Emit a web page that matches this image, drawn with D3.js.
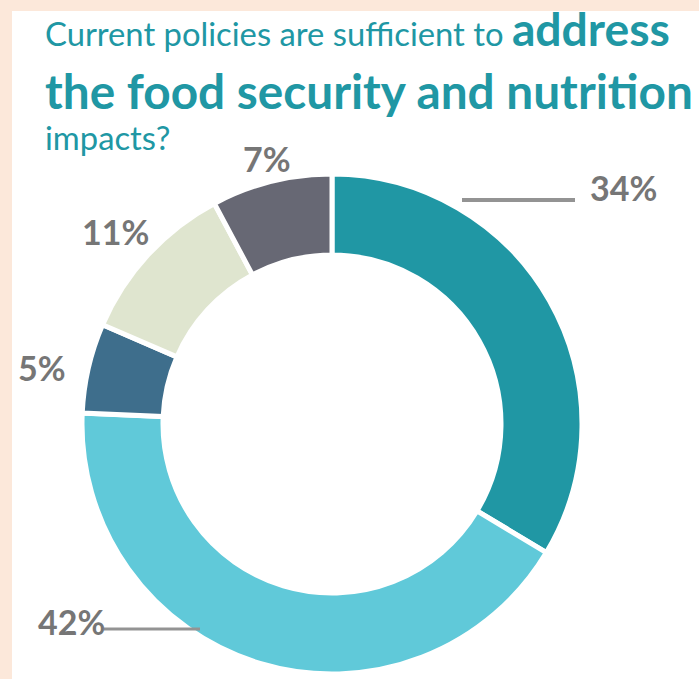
<!DOCTYPE html>
<html><head><meta charset="utf-8">
<script src="https://cdn.jsdelivr.net/npm/d3@7"></script>
<style>html,body{margin:0;padding:0;background:#fce8da;}svg{display:block;}</style>
</head><body>
<script>
// Data
const categories = ["A", "B", "C", "D", "E"];
const labels = ["34%", "42%", "5%", "11%", "7%"];
// segment shares as drawn in the picture (measured from the arcs)
const shares = [33.6, 42.1, 5.8, 10.7, 7.8];
const colors = ["#2097a4", "#60c9d9", "#3e6e8c", "#dfe5cf", "#676874"];
const titleLine1 = ["Current policies are sufficient to ", "address"];
const titleLine2 = "the food security and nutrition";
const titleLine3 = "impacts?";

const W = 699, H = 679;
const svg = d3.select("body").append("svg").attr("width", W).attr("height", H);
svg.append("rect").attr("width", W).attr("height", H).attr("fill", "#fce8da");
svg.append("rect").attr("x", 12).attr("y", 11).attr("width", W - 12).attr("height", H - 11).attr("fill", "#ffffff");

const teal = "#2097a4";
const font = "Lato, 'Open Sans', sans-serif";

function fitText(sel, target) {
  const w = sel.node().getComputedTextLength();
  const fs = parseFloat(sel.attr("font-size"));
  sel.attr("font-size", fs * target / w);
}

// Title
const t1 = svg.append("text").attr("x", 45).attr("y", 46).attr("fill", teal).attr("font-family", font);
const t1a = t1.append("tspan").attr("font-size", 27).attr("font-weight", 400).text(titleLine1[0]);
const t1b = t1.append("tspan").attr("font-size", 42).attr("font-weight", 700).text(titleLine1[1]);
{
  const w1 = t1a.node().getComputedTextLength();
  t1a.attr("font-size", 27 * 467 / w1);
  const w2 = t1b.node().getComputedTextLength();
  t1b.attr("font-size", 42 * 158 / w2);
}
const t2 = svg.append("text").attr("x", 45).attr("y", 109).attr("fill", teal)
  .attr("font-family", font).attr("font-weight", 700).attr("font-size", 44).text(titleLine2);
fitText(t2, 648);
const t3 = svg.append("text").attr("x", 45).attr("y", 150).attr("fill", teal)
  .attr("font-family", font).attr("font-weight", 400).attr("font-size", t1a.attr("font-size")).text(titleLine3);

// Donut
const cx = 332, cy = 424, R = 250, r = 169;
const g = svg.append("g").attr("transform", `translate(${cx},${cy})`);

// leader lines (under donut)
svg.append("line").attr("x1", 462).attr("x2", 575).attr("y1", 200).attr("y2", 200)
  .attr("stroke", "#939393").attr("stroke-width", 4);
svg.append("line").attr("x1", 104).attr("x2", 200).attr("y1", 629).attr("y2", 629)
  .attr("stroke", "#939393").attr("stroke-width", 3);

const pie = d3.pie().sort(null).value(d => d).startAngle(0).endAngle(2 * Math.PI);
const arc = d3.arc().innerRadius(r).outerRadius(R);
g.selectAll("path").data(pie(shares)).join("path")
  .attr("d", arc)
  .attr("fill", (d, i) => colors[i])
  .attr("stroke", "#ffffff").attr("stroke-width", 5).attr("stroke-linejoin", "miter");

// value labels
const labelPos = [
  {x: 590, y: 201, anchor: "start"},
  {x: 38, y: 635, anchor: "start"},
  {x: 18, y: 381, anchor: "start"},
  {x: 82, y: 245, anchor: "start"},
  {x: 243, y: 172, anchor: "start"}
];
labels.forEach((l, i) => {
  svg.append("text").attr("x", labelPos[i].x).attr("y", labelPos[i].y)
    .attr("text-anchor", labelPos[i].anchor)
    .attr("font-family", font).attr("font-weight", 700).attr("font-size", 34)
    .attr("fill", "#767676").text(l);
});
</script>
</body></html>
